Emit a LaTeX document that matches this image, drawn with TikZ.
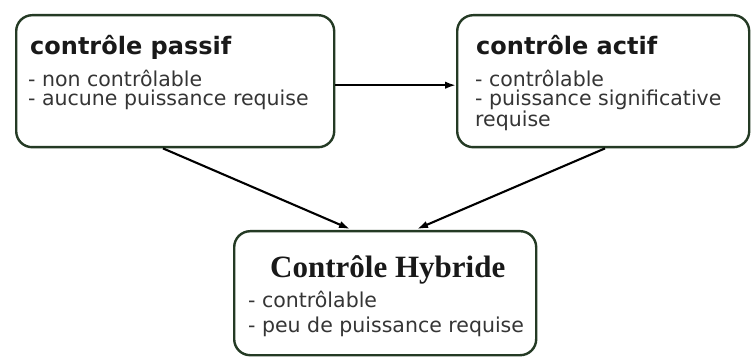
\documentclass[tikz,border=0pt]{standalone}
\usepackage{fontspec}
\setmainfont{DejaVu Sans}
\newfontfamily\serifbf{Liberation Serif}
\usetikzlibrary{arrows.meta,calc}
\definecolor{boxgreen}{RGB}{36,58,36}
\definecolor{txt}{RGB}{25,25,25}
\begin{document}
\begin{tikzpicture}[x=1pt,y=1pt,
  box/.style={draw=boxgreen,line width=2.4pt,rounded corners=16pt,fill=white,inner sep=0pt},
  ttl/.style={anchor=base west,inner sep=0pt,text=txt,font=\fontsize{24}{28}\selectfont\bfseries},
  body/.style={anchor=base west,inner sep=0pt,text=txt!88,font=\fontsize{20.5}{24}\selectfont},
  arr/.style={line width=2.1pt,-{Latex[length=11pt,width=7.5pt]}}]
\useasboundingbox[fill=white] (0,0) rectangle (751,356);
% boxes
\node[box,minimum width=318pt,minimum height=132pt,anchor=north west] (p) at (15,342) {};
\node[box,minimum width=292pt,minimum height=132pt,anchor=north west] (a) at (456,342) {};
\node[box,minimum width=302pt,minimum height=124pt,anchor=north west] (h) at (233,126) {};
% texts box 1
\node[ttl] (pt) at (30,301) {contrôle passif};
\node[body] (p1) at (28,269) {- non contrôlable};
\node[body] (p2) at (28,250) {- aucune puissance requise};
% texts box 2
\node[ttl] (at) at (476,301) {contrôle actif};
\node[body] (a1) at (475,269) {- contrôlable};
\node[body] (a2) at (475,250) {- puissance significative};
\node[body] (a3) at (475,229) {requise};
% texts box 3
\node[anchor=base west,inner sep=0pt,text=txt,font=\fontsize{31}{34}\selectfont\serifbf\bfseries] (ht) at (270,79) {Contrôle Hybride};
\node[body] (h1) at (248,49) {- contrôlable};
\node[body] (h2) at (248,24) {- peu de puissance requise};
% connectors
\draw[arr] ([yshift=-4pt]p.east) -- ([yshift=-4pt]a.west);
\draw[arr] ([xshift=148pt]p.south west) -- ([xshift=117pt,yshift=1pt]h.north west);
\draw[arr] ([xshift=149pt]a.south west) -- ([xshift=184pt,yshift=1pt]h.north west);
\end{tikzpicture}
\end{document}
